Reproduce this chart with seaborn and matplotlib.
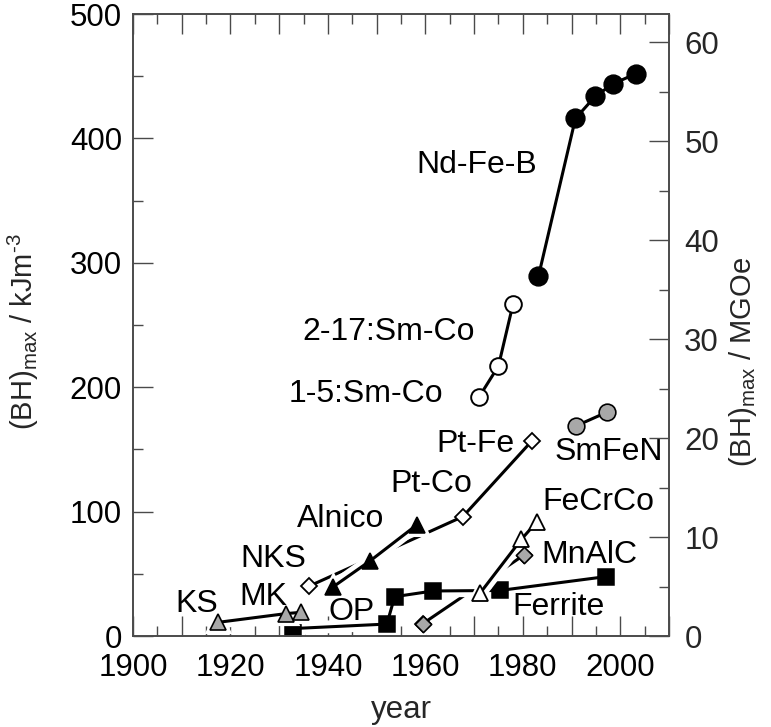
import matplotlib
matplotlib.use("Agg")
import matplotlib.pyplot as plt
from matplotlib.ticker import MultipleLocator, FuncFormatter
import seaborn as sns
import pandas as pd

# ---- data: (BH)max of permanent magnet families vs. year -------------
ks_year = [1917.5, 1931.4, 1934.4]
ks_bh = [11, 18, 19]

ferrite_year = [1932.9, 1952.1, 1953.7, 1961.6, 1975.3, 1997.0]
ferrite_bh = [6, 9.6, 31.6, 36.2, 36.6, 47.7]

pt_year = [1936.1, 1967.7, 1981.9]
pt_bh = [40, 96, 157]

alnico_year = [1941.1, 1948.7, 1958.2]
alnico_bh = [39.6, 60.5, 89.2]

mnalc_year = [1959.5, 1980.2]
mnalc_bh = [10, 65]

fecrco_year = [1971.2, 1979.7, 1982.9]
fecrco_bh = [34.3, 77.7, 91.9]

smco_year = [1971.0, 1975.0, 1978.0]
smco_bh = [192, 217, 267]

ndfeb_year = [1983.2, 1990.8, 1994.9, 1998.6, 2003.2]
ndfeb_bh = [289, 416, 434, 444, 452]

smfen_year = [1991.0, 1997.3]
smfen_bh = [169, 180]

KJ_PER_MGOE = 7.9577

sns.set_theme(style="ticks")
plt.rcParams["font.family"] = ["Liberation Sans", "DejaVu Sans"]
plt.rcParams["mathtext.fontset"] = "custom"
plt.rcParams["mathtext.rm"] = "Liberation Sans"
plt.rcParams["mathtext.it"] = "Liberation Sans:italic"
plt.rcParams["mathtext.bf"] = "Liberation Sans:bold"

fig = plt.figure(figsize=(7.71, 7.27), dpi=100)
ax = fig.add_axes([133 / 771, 1 - 636 / 727, 536 / 771, 622 / 727])

GRAY = "#a8a8a8"
LW = 2.2


def draw_series(years, values, marker, ms, face, mew=1.1, zorder=2):
    df = pd.DataFrame({"year": years, "bh": values})
    # white halo underneath so crossing lines appear interrupted
    sns.lineplot(data=df, x="year", y="bh", ax=ax, color="white",
                 linewidth=LW + 7, marker=marker, markersize=ms,
                 markerfacecolor="white", markeredgecolor="white",
                 markeredgewidth=mew + 4, estimator=None, sort=False,
                 solid_capstyle="round", zorder=zorder)
    sns.lineplot(data=df, x="year", y="bh", ax=ax, color="black",
                 linewidth=LW, marker=marker, markersize=ms,
                 markerfacecolor=face, markeredgecolor="black",
                 markeredgewidth=mew, estimator=None, sort=False,
                 solid_capstyle="butt", zorder=zorder)


draw_series(smco_year, smco_bh, "o", 12, "white", 1.4)
draw_series(ndfeb_year, ndfeb_bh, "o", 13.5, "black")
draw_series(smfen_year, smfen_bh, "o", 12, GRAY, 1.2)
draw_series(pt_year, pt_bh, "D", 8.3, "white", 1.3)
draw_series(alnico_year, alnico_bh, "^", 12, "black")
draw_series(mnalc_year, mnalc_bh, "D", 8.3, GRAY, 1.2)
draw_series(ferrite_year, ferrite_bh, "s", 11, "black")
draw_series(fecrco_year, fecrco_bh, "^", 12, "white", 1.3)
draw_series(ks_year, ks_bh, "^", 12, GRAY, 1.2)

# MnAlC symbols sit in front of the crossing FeCrCo line
sns.scatterplot(x=mnalc_year, y=mnalc_bh, ax=ax, marker="D", s=8.3 ** 2,
                color=GRAY, edgecolor="black", linewidth=1.2, zorder=2.5)

# ---- material labels ---------------------------------------------------
labels = [
    ("KS", 1913.1, 19.5), ("MK", 1926.7, 24.9), ("NKS", 1928.7, 55.7),
    ("Alnico", 1942.6, 87.6), ("OP", 1944.8, 12.9), ("Pt-Co", 1961.3, 115.8),
    ("Pt-Fe", 1970.3, 147.9), ("SmFeN", 1997.6, 141.5),
    ("FeCrCo", 1995.6, 101.3), ("MnAlC", 1993.7, 58.7),
    ("Ferrite", 1987.3, 16.9), ("Nd-Fe-B", 1970.5, 372.2),
    ("2-17:Sm-Co", 1952.5, 237.9), ("1-5:Sm-Co", 1947.9, 188.1),
]
for text, x, y in labels:
    ax.text(x, y, text, fontsize=23, ha="center", va="baseline",
            color="black", zorder=3)

# ---- axes --------------------------------------------------------------
SPINE = "#4a4a4a"
ax.set_xlim(1900, 2010)
ax.set_ylim(0, 500)
ax.xaxis.set_major_locator(MultipleLocator(10))
ax.xaxis.set_minor_locator(MultipleLocator(5))
ax.xaxis.set_major_formatter(FuncFormatter(
    lambda v, p: f"{int(round(v))}" if int(round(v)) % 20 == 0 else ""))
ax.yaxis.set_major_locator(MultipleLocator(100))
ax.yaxis.set_minor_locator(MultipleLocator(50))
ax.tick_params(axis="both", which="both", direction="in", top=True,
               right=False, color=SPINE, width=1.0)
ax.tick_params(axis="both", which="major", length=14.5, labelsize=22.5,
               labelcolor="black")
ax.tick_params(axis="x", which="major", pad=12.5)
ax.tick_params(axis="y", which="major", pad=8)
ax.tick_params(axis="both", which="minor", length=7.5)
ax.set_xlabel("year", fontsize=22.5)
ax.set_ylabel(r"(BH)$_{\rm max}$ / kJm$^{\text{-3}}$", fontsize=21)
ax.yaxis.set_label_coords(-0.172, 0.49)
ax.xaxis.set_label_coords(0.5, -0.095)

ax2 = ax.twinx()
ax2.set_ylim(0, 500 / KJ_PER_MGOE)
ax2.yaxis.set_major_locator(MultipleLocator(10))
ax2.yaxis.set_minor_locator(MultipleLocator(5))
ax2.tick_params(axis="y", which="both", direction="in", color=SPINE,
                width=1.0)
ax2.tick_params(axis="y", which="major", length=14.5, labelsize=22.5, pad=11)
ax2.tick_params(axis="y", which="minor", length=7.5)
ax2.set_ylabel(r"(BH)$_{\rm max}$ / MGOe", fontsize=21)
ax2.yaxis.set_label_coords(1.108, 0.44)

for a in (ax, ax2):
    for s in a.spines.values():
        s.set_visible(True)
        s.set_color(SPINE)
        s.set_linewidth(1.2)

fig.savefig("out.png", dpi=100)
